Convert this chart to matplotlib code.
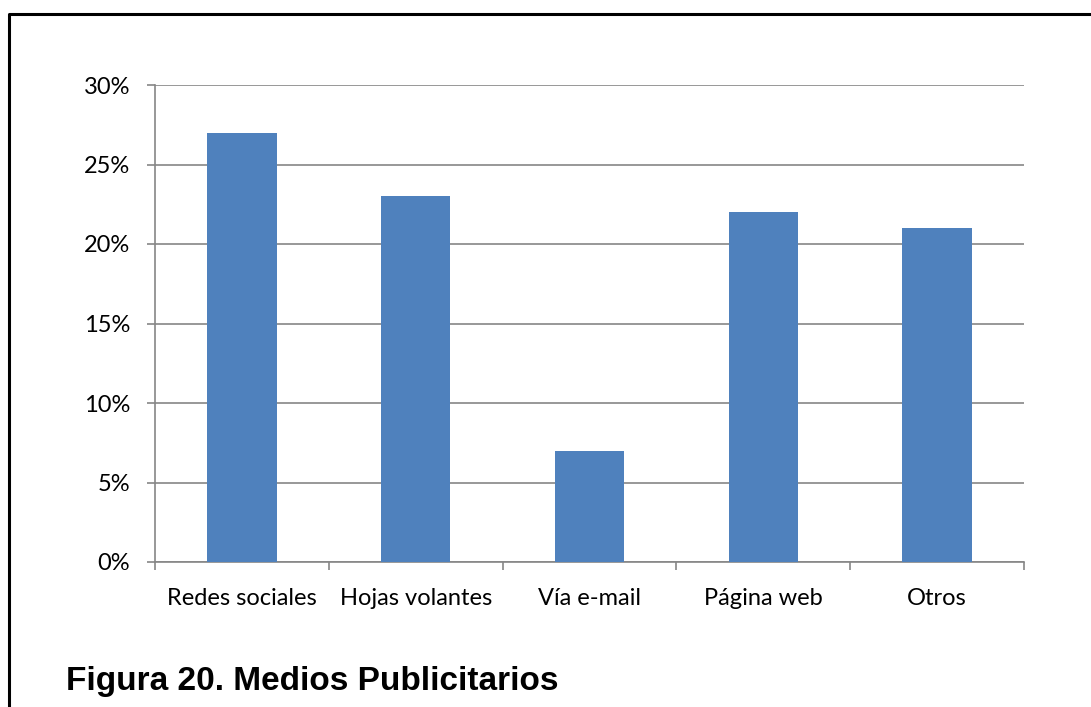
import matplotlib.pyplot as plt
from matplotlib.lines import Line2D
from matplotlib.ticker import FixedLocator, PercentFormatter

categories = ['Redes sociales', 'Hojas volantes', 'Vía e-mail', 'Página web', 'Otros']
values = [27, 23, 7, 22, 21]
yticks = [0, 5, 10, 15, 20, 25, 30]
title = 'Figura 20. Medios Publicitarios'

W, H = 1091, 707
fig = plt.figure(figsize=(W / 100, H / 100), dpi=100)

# plot area in pixel terms
left, right, top, bottom = 155, 1024, 85, 562
ax = fig.add_axes([left / W, 1 - bottom / H, (right - left) / W, (bottom - top) / H])

grey = '#868686'
ax.bar(range(len(values)), values, width=0.4, color='#4f81bd', zorder=3)
ax.set_xlim(-0.5, len(values) - 0.5)
ax.set_ylim(0, 30)
ax.set_yticks(yticks)
ax.yaxis.set_major_formatter(PercentFormatter(decimals=0))
ax.grid(axis='y', color=grey, linewidth=1.2, zorder=0)

ax.set_xticks(range(len(categories)))
ax.set_xticklabels(categories)
ax.xaxis.set_minor_locator(FixedLocator([i - 0.5 for i in range(len(categories) + 1)]))
ax.tick_params(axis='x', which='major', length=0, pad=19)
ax.tick_params(axis='x', which='minor', length=6, width=1.2, color=grey)
ax.tick_params(axis='y', length=6, width=1.2, color=grey, pad=12)

for lab in ax.get_xticklabels() + ax.get_yticklabels():
    lab.set_family(['Lato', 'DejaVu Sans'])
    lab.set_fontsize(17)
    lab.set_color('black')

for s in ['top', 'right']:
    ax.spines[s].set_visible(False)
for s in ['left', 'bottom']:
    ax.spines[s].set_color(grey)
    ax.spines[s].set_linewidth(1.2)

fig.text(66 / W, 1 - 690 / H, title, family=['Liberation Sans Narrow', 'Liberation Sans'],
         fontweight='bold', fontsize=24, va='baseline', ha='left')

# page frame: left and top edges
fig.add_artist(Line2D([9 / W, 9 / W, 1], [0, 1 - 14 / H, 1 - 14 / H],
                      color='black', linewidth=2.2, transform=fig.transFigure))

fig.savefig('out.png', dpi=100)
